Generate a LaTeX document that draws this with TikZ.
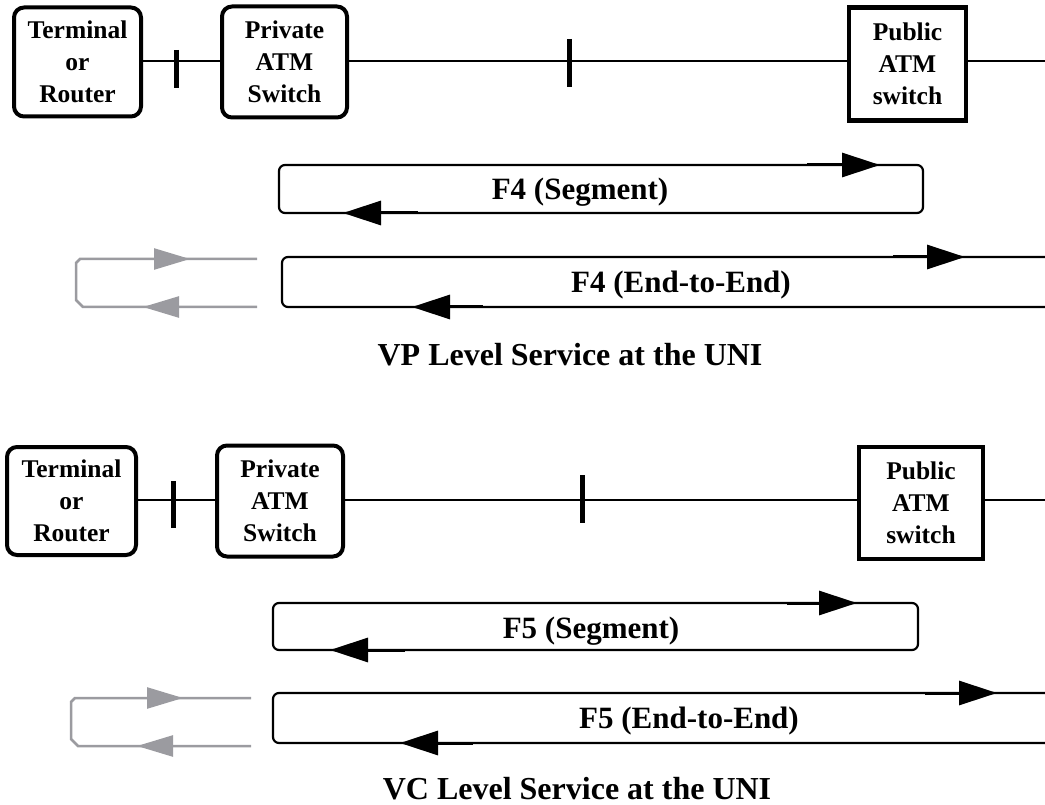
\documentclass[tikz,border=0pt]{standalone}
\usepackage{fontspec}
\setmainfont{Liberation Serif}
\usetikzlibrary{arrows.meta}
\definecolor{loopgray}{RGB}{155,155,160}
\tikzset{
  dev/.style={draw, line width=4pt, rounded corners=10pt, align=center, inner sep=0pt,
              font=\fontsize{25.5}{32}\selectfont\bfseries},
  pubdev/.style={dev, rounded corners=0pt, line width=4.5pt},
  wire/.style={line width=2.5pt},
  uni/.style={line width=5pt},
  oam/.style={line width=2.2pt, rounded corners=6pt},
  graylp/.style={line width=2.5pt, draw=loopgray},
  fwd/.style={line width=3pt, -{Triangle[length=38pt,width=24pt]}},
  gfwd/.style={line width=2.5pt, draw=loopgray, fill=loopgray, -{Triangle[length=36pt,width=21pt]}},
  lbl/.style={anchor=base, inner sep=0pt, font=\fontsize{31}{36}\selectfont\bfseries},
  ttl/.style={anchor=base, inner sep=0pt, font=\fontsize{32}{38}\selectfont\bfseries}
}
\begin{document}
\begin{tikzpicture}[x=1pt, y=-1pt]
\useasboundingbox (0,0) rectangle (1045,805);

% ---------------- VP level ----------------
\node[dev, minimum width=127pt, minimum height=109pt] (termA) at (77.5,62) {Terminal\\or\\Router};
\node[dev, minimum width=125pt, minimum height=111pt] (privA) at (284.5,62) {Private\\ATM\\Switch};
\node[pubdev, minimum width=117pt, minimum height=113pt] (pubA) at (907.5,64) {Public\\ATM\\switch};
\coordinate (edgeA) at (1045,61);
\draw[wire] (termA.east |- edgeA) -- (privA.west |- edgeA);
\draw[wire] (privA.east |- edgeA) -- (pubA.west |- edgeA);
\draw[wire] (pubA.east |- edgeA) -- (edgeA);
\draw[uni] (176,50) -- (176,88);
\draw[uni] (569,39) -- (569,87);

% F4 segment flow
\draw[oam] (279,165) rectangle (923,213);
\node[lbl] (f4seg) at (580,200) {F4 (Segment)};
\coordinate (segAt1) at (807,165); \coordinate (segAt2) at (880,165);
\coordinate (segAb1) at (418,213); \coordinate (segAb2) at (343,213);
\draw[fwd] (segAt1) -- (segAt2);
\draw[fwd] (segAb1) -- (segAb2);

% F4 end-to-end flow
\draw[oam] (1045,257) -- (282,257) -- (282,307) -- (1045,307);
\node[lbl] (f4e2e) at (681,293) {F4 (End-to-End)};
\coordinate (e2eAt1) at (893,257); \coordinate (e2eAt2) at (965,257);
\coordinate (e2eAb1) at (483,307); \coordinate (e2eAb2) at (412,307);
\draw[fwd] (e2eAt1) -- (e2eAt2);
\draw[fwd] (e2eAb1) -- (e2eAb2);

% far-end loop
\draw[graylp] (257,259) -- (80,259) -- (76,263) -- (76,300) -- (83,307) -- (257,307);
\coordinate (gAt1) at (150,259); \coordinate (gAt2) at (190,259);
\coordinate (gAb1) at (181,307); \coordinate (gAb2) at (143,307);
\draw[gfwd] (gAt1) -- (gAt2);
\draw[gfwd] (gAb1) -- (gAb2);

\node[ttl] (vptitle) at (570,365) {VP Level Service at the UNI};

% ---------------- VC level ----------------
\node[dev, minimum width=129pt, minimum height=108pt] (termB) at (71.5,501) {Terminal\\or\\Router};
\node[dev, minimum width=126pt, minimum height=111pt] (privB) at (280,501) {Private\\ATM\\Switch};
\node[pubdev, minimum width=124pt, minimum height=112pt] (pubB) at (921,503) {Public\\ATM\\switch};
\coordinate (edgeB) at (1045,500);
\draw[wire] (termB.east |- edgeB) -- (privB.west |- edgeB);
\draw[wire] (privB.east |- edgeB) -- (pubB.west |- edgeB);
\draw[wire] (pubB.east |- edgeB) -- (edgeB);
\draw[uni] (173,481) -- (173,528);
\draw[uni] (582,475) -- (582,523);

% F5 segment flow
\draw[oam] (273,603) rectangle (918,650);
\node[lbl] (f5seg) at (591,638) {F5 (Segment)};
\coordinate (segBt1) at (787,603); \coordinate (segBt2) at (857,603);
\coordinate (segBb1) at (405,650); \coordinate (segBb2) at (330,650);
\draw[fwd] (segBt1) -- (segBt2);
\draw[fwd] (segBb1) -- (segBb2);

% F5 end-to-end flow
\draw[oam] (1045,693) -- (273,693) -- (273,743) -- (1045,743);
\node[lbl] (f5e2e) at (689,728) {F5 (End-to-End)};
\coordinate (e2eBt1) at (925,693); \coordinate (e2eBt2) at (997,693);
\coordinate (e2eBb1) at (473,743); \coordinate (e2eBb2) at (400,743);
\draw[fwd] (e2eBt1) -- (e2eBt2);
\draw[fwd] (e2eBb1) -- (e2eBb2);

% far-end loop
\draw[graylp] (251,698) -- (75,698) -- (71,702) -- (71,739) -- (78,746) -- (251,746);
\coordinate (gBt1) at (144,698); \coordinate (gBt2) at (183,698);
\coordinate (gBb1) at (176,746); \coordinate (gBb2) at (137,746);
\draw[gfwd] (gBt1) -- (gBt2);
\draw[gfwd] (gBb1) -- (gBb2);

\node[ttl] (vctitle) at (577,799) {VC Level Service at the UNI};
\end{tikzpicture}
\end{document}
